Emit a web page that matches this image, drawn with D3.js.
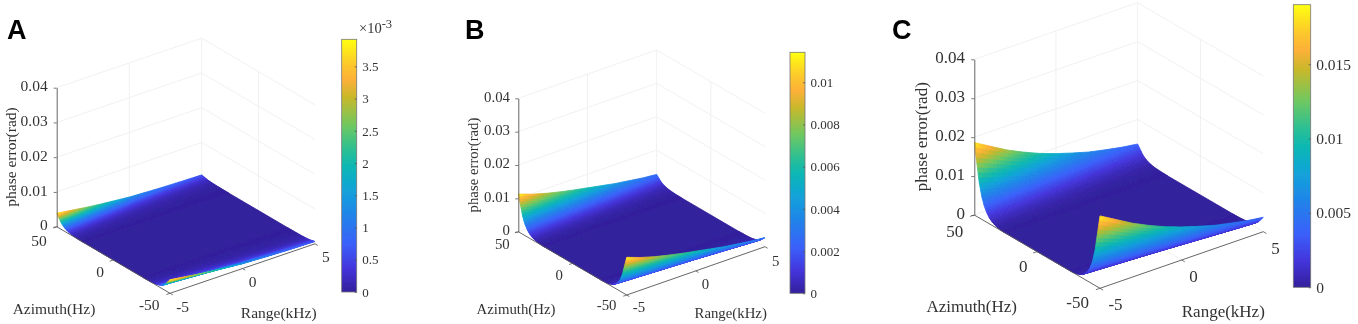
<!DOCTYPE html>
<html lang="en">
<head>
    <meta charset="UTF-8">
    <title>phase error surfaces</title>
    <script src="https://d3js.org/d3.v7.min.js"></script>
    <style>
        html, body { margin: 0; padding: 0; background: #fff; }
        svg { display: block; }
        text { font-family: "Liberation Serif", serif; fill: #333; }
    </style>
</head>
<body>
<div id="output"></div>

<script>

// values
var rangeLevels = [-5, -4, -3, -2, -1, 0, 1, 2, 3, 4, 5];
var azimuthLevels = [-50, -48, -46, -44, -42, -40, -38, -36, -34, -32, -30, -28, -26, 26, 28, 30, 32, 34, 36, 38, 40, 42, 44, 46, 48, 50];
var azimuthShare = [1, 0.74, 0.48, 0.31, 0.20, 0.13, 0.08, 0.05, 0.03, 0.016, 0.008, 0.003, 0, 0, 0.003, 0.008, 0.016, 0.03, 0.05, 0.08, 0.13, 0.20, 0.31, 0.48, 0.74, 1];

// error along the a = +-50 edges, one list per panel
var edgeA = [0.0039, 0.0033, 0.0027, 0.0022, 0.0018, 0.0014, 0.0012, 0.0010, 0.00085, 0.00075, 0.00065];
var edgeB = [0.0113, 0.0098, 0.0086, 0.0076, 0.0067, 0.0059, 0.0051, 0.0043, 0.0037, 0.0031, 0.0027];
var edgeC = [0.0186, 0.0162, 0.0138, 0.0118, 0.0100, 0.0085, 0.0072, 0.0060, 0.0051, 0.0043, 0.0037];

var zTicks = [0, 0.01, 0.02, 0.03, 0.04];
var azimuthTicks = [50, 0, -50];
var rangeTicks = [-5, 0, 5];

var barTicksA = [0, 0.0005, 0.001, 0.0015, 0.002, 0.0025, 0.003, 0.0035];
var barLabelsA = ["0", "0.5", "1", "1.5", "2", "2.5", "3", "3.5"];
var barTicksB = [0, 0.002, 0.004, 0.006, 0.008, 0.01];
var barLabelsB = ["0", "0.002", "0.004", "0.006", "0.008", "0.01"];
var barTicksC = [0, 0.005, 0.01, 0.015];
var barLabelsC = ["0", "0.005", "0.01", "0.015"];

var parula = ["#33209c", "#4435dc", "#3a60fa", "#1f85e8", "#12a2da", "#0eb8b2", "#30c090", "#70c860", "#c8b82a", "#fdb038", "#fcc82c", "#ffff10"];
var parulaAt = [0, 0.095, 0.19, 0.31, 0.40, 0.50, 0.57, 0.66, 0.77, 0.84, 0.90, 1];

var panels = [
    {
        letter: "A", letterX: 7, letterY: 39,
        left: [56.7, 226.7], front: [170, 293.3], right: [315, 243.8], zHeight: 139,
        edge: edgeA, max: 0.00392, barTicks: barTicksA, barLabels: barLabelsA,
        bar: [341.7, 39.3, 15, 252.7], barFont: 13, font: 15.5,
        zLabelX: -9, azOff: [[-10, 14], [-9.4, 11.7], [-10.4, 11.7]], rangeOff: [[6.2, 13.4], [6.3, 13.4], [7, 13.4]],
        azTitle: [54, 309], rangeTitle: [278.7, 312.7], zTitle: [11, 157], exponent: true
    },
    {
        letter: "B", letterX: 465, letterY: 39,
        left: [518.3, 231.7], front: [626.7, 295], right: [765, 246.7], zHeight: 133.4,
        edge: edgeB, max: 0.01142, barTicks: barTicksB, barLabels: barLabelsB,
        bar: [790, 52.3, 15, 241], barFont: 13, font: 14.8,
        zLabelX: -8.3, azOff: [[-8.6, 12.3], [-9.5, 11.7], [-10.2, 10]], rangeOff: [[6.1, 12.3], [5.8, 13.2], [7, 14]],
        azTitle: [516, 309.3], rangeTitle: [730.7, 313.3], zTitle: [473.3, 165]
    },
    {
        letter: "C", letterX: 892, letterY: 39,
        left: [974.3, 215], front: [1100, 288.3], right: [1263.3, 231.7], zHeight: 155.7,
        edge: edgeC, max: 0.019, barTicks: barTicksC, barLabels: barLabelsC,
        bar: [1293.3, 4.7, 17.4, 282.6], barFont: 15.5, font: 17,
        zLabelX: -9.3, azOff: [[-11, 16], [-9.6, 14.4], [-11, 14]], rangeOff: [[8.4, 15.7], [7.6, 16.7], [8, 16.6]],
        azTitle: [971.7, 306.7], rangeTitle: [1223.3, 311], zTitle: [921.7, 136.7]
    }
];

var w = 1358;
var h = 324;
var svg = d3.select("#output")
    .append("svg")
    .attr("width", w)
    .attr("height", h);

var defs = svg.append("defs");
defs.append("filter")
    .attr("id", "soft")
    .append("feGaussianBlur")
    .attr("stdDeviation", 0.4);

var gradient = defs.append("linearGradient")
    .attr("id", "parula")
    .attr("x1", 0).attr("x2", 0)
    .attr("y1", 1).attr("y2", 0);
gradient.selectAll("stop").data(parula)
    .enter()
    .append("stop")
    .attr("offset", function(d, i) { return parulaAt[i]; })
    .attr("stop-color", function(d) { return d; });

var colormap = d3.scaleLinear().domain(parulaAt).range(parula).clamp(true);
var root = svg.append("g").attr("filter", "url(#soft)");
var line = d3.line();

// azimuth sample steps, flat middle in one go
var azimuthSteps = d3.range(50, 25.9, -0.5).concat(d3.range(-26, -50, -0.5)).concat([-50]);
var rangeSteps = d3.range(5, -5, -0.2).concat([-5]);

panels.forEach(drawPanel);

function drawPanel(p) {
    var g = root.append("g");

    var rx = d3.scaleLinear().domain([-5, 5]).range([0, p.right[0] - p.front[0]]);
    var ry = d3.scaleLinear().domain([-5, 5]).range([0, p.right[1] - p.front[1]]);
    var ax = d3.scaleLinear().domain([-50, 50]).range([0, p.left[0] - p.front[0]]);
    var ay = d3.scaleLinear().domain([-50, 50]).range([0, p.left[1] - p.front[1]]);
    var zy = d3.scaleLinear().domain([0, 0.04]).range([0, -p.zHeight]);

    var share = d3.scaleLinear().domain(azimuthLevels).range(azimuthShare);
    var edge = d3.scaleLinear().domain(rangeLevels).range(p.edge);
    var color = d3.scaleSequential(colormap).domain([0, p.max]);

    function project(r, a, z) {
        return [p.front[0] + rx(r) + ax(a), p.front[1] + ry(r) + ay(a) + zy(z)];
    }
    function height(r, a) {
        return edge(r) * share(a);
    }

    // grid on the two back walls and the floor
    var grid = [];
    zTicks.forEach(function(z) {
        grid.push([project(-5, 50, z), project(5, 50, z)]);
        grid.push([project(5, 50, z), project(5, -50, z)]);
    });
    grid.push([project(0, 50, 0), project(0, 50, 0.04)]);
    grid.push([project(5, 50, 0), project(5, 50, 0.04)]);
    grid.push([project(5, 0, 0), project(5, 0, 0.04)]);
    grid.push([project(0, 50, 0), project(0, -50, 0)]);
    grid.push([project(5, 0, 0), project(-5, 0, 0)]);

    g.append("g").selectAll("path").data(grid)
        .enter()
        .append("path")
        .attr("d", line)
        .attr("fill", "none")
        .attr("stroke", "#eeeeee")
        .attr("stroke-width", 0.8);

    // surface, back to front so the near wall covers the valley
    var cells = [];
    for (var i = 0; i < azimuthSteps.length - 1; i++) {
        var a0 = azimuthSteps[i], a1 = azimuthSteps[i + 1];
        if (share(a0) === 0 && share(a1) === 0) {
            cells.push({ a0: a0, a1: a1, r0: 5, r1: -5 });
            continue;
        }
        for (var j = 0; j < rangeSteps.length - 1; j++) {
            cells.push({ a0: a0, a1: a1, r0: rangeSteps[j], r1: rangeSteps[j + 1] });
        }
    }

    g.append("g").selectAll("path").data(cells)
        .enter()
        .append("path")
        .attr("d", function(d) {
            return line([
                project(d.r0, d.a0, height(d.r0, d.a0)),
                project(d.r1, d.a0, height(d.r1, d.a0)),
                project(d.r1, d.a1, height(d.r1, d.a1)),
                project(d.r0, d.a1, height(d.r0, d.a1))
            ]) + "Z";
        })
        .each(function(d) {
            var v = (height(d.r0, d.a0) + height(d.r1, d.a0) + height(d.r1, d.a1) + height(d.r0, d.a1)) / 4;
            d3.select(this).attr("fill", color(v)).attr("stroke", color(v));
        })
        .attr("stroke-width", 0.8)
        .attr("stroke-linejoin", "round");

    // vertical axis
    var zAxisY = d3.scaleLinear().domain([0, 0.04]).range([p.left[1], p.left[1] - p.zHeight]);
    var zAxis = g.append("g")
        .attr("transform", "translate(" + p.left[0] + ",0)")
        .call(d3.axisLeft(zAxisY).tickValues(zTicks).tickSize(3).tickSizeOuter(0).tickPadding(-p.zLabelX - 3)
            .tickFormat(function(d) { return d === 0 ? "0" : d3.format(".2f")(d); }));
    styleAxis(zAxis, p.font);
    zAxis.selectAll("text").attr("dy", "0.2em");

    // floor axes
    g.append("path")
        .attr("d", line([project(-5, 50, 0), project(-5, -50, 0), project(5, -50, 0)]))
        .attr("fill", "none")
        .attr("stroke", "#555")
        .attr("stroke-width", 0.9);

    var ticks = [];
    azimuthTicks.forEach(function(a) {
        ticks.push([project(-5, a, 0), project(-5.25, a, 0)]);
    });
    rangeTicks.forEach(function(r) {
        ticks.push([project(r, -50, 0), project(r, -52.5, 0)]);
    });
    g.append("g").selectAll("path").data(ticks)
        .enter()
        .append("path")
        .attr("d", line)
        .attr("fill", "none")
        .attr("stroke", "#555")
        .attr("stroke-width", 0.8);

    g.append("g").selectAll("text").data(azimuthTicks)
        .enter()
        .append("text")
        .attr("x", function(d, i) { return project(-5, d, 0)[0] + p.azOff[i][0]; })
        .attr("y", function(d, i) { return project(-5, d, 0)[1] + p.azOff[i][1]; })
        .attr("dy", "0.33em")
        .attr("text-anchor", "end")
        .attr("font-size", p.font)
        .text(function(d) { return d; });

    g.append("g").selectAll("text").data(rangeTicks)
        .enter()
        .append("text")
        .attr("x", function(d, i) { return project(d, -50, 0)[0] + p.rangeOff[i][0]; })
        .attr("y", function(d, i) { return project(d, -50, 0)[1] + p.rangeOff[i][1]; })
        .attr("dy", "0.33em")
        .attr("font-size", p.font)
        .text(function(d) { return d; });

    // titles
    g.append("text")
        .attr("x", p.azTitle[0]).attr("y", p.azTitle[1]).attr("dy", "0.33em")
        .attr("text-anchor", "middle")
        .attr("font-size", p.font)
        .text("Azimuth(Hz)");
    g.append("text")
        .attr("x", p.rangeTitle[0]).attr("y", p.rangeTitle[1]).attr("dy", "0.33em")
        .attr("text-anchor", "middle")
        .attr("font-size", p.font)
        .text("Range(kHz)");
    g.append("text")
        .attr("transform", "translate(" + p.zTitle[0] + "," + p.zTitle[1] + ") rotate(-90)")
        .attr("dy", "0.33em")
        .attr("text-anchor", "middle")
        .attr("font-size", p.font)
        .text("phase error(rad)");

    g.append("text")
        .attr("x", p.letterX).attr("y", p.letterY)
        .attr("font-size", 27)
        .attr("font-weight", "bold")
        .style("font-family", "'Liberation Sans', sans-serif")
        .style("fill", "#000")
        .text(p.letter);

    // colorbar
    var bar = p.bar;
    g.append("rect")
        .attr("x", bar[0]).attr("y", bar[1])
        .attr("width", bar[2]).attr("height", bar[3])
        .attr("fill", "url(#parula)")
        .attr("stroke", "#777")
        .attr("stroke-width", 0.8);

    var barY = d3.scaleLinear().domain([0, p.max]).range([bar[1] + bar[3], bar[1]]);
    var barAxis = g.append("g")
        .attr("transform", "translate(" + (bar[0] + bar[2]) + ",0)")
        .call(d3.axisRight(barY).tickValues(p.barTicks).tickSize(-2).tickSizeOuter(0).tickPadding(5.5)
            .tickFormat(function(d, i) { return p.barLabels[i]; }));
    styleAxis(barAxis, p.barFont);
    barAxis.select(".domain").remove();

    if (p.exponent) {
        var ex = g.append("text")
            .attr("x", bar[0] + 17.3).attr("y", 32.5)
            .attr("font-size", 14.5);
        ex.append("tspan").text("\u00d710");
        ex.append("tspan").attr("dy", -5).attr("font-size", 12.5).text("-3");
    }
}

function styleAxis(sel, size) {
    sel.attr("font-family", null).attr("font-size", size);
    sel.selectAll("path").attr("stroke", "#555").attr("stroke-width", 0.9);
    sel.selectAll("line").attr("stroke", "#555").attr("stroke-width", 0.8);
    sel.selectAll("text").style("font-family", "'Liberation Serif', serif").style("fill", "#333");
}

</script>
</body>
</html>
